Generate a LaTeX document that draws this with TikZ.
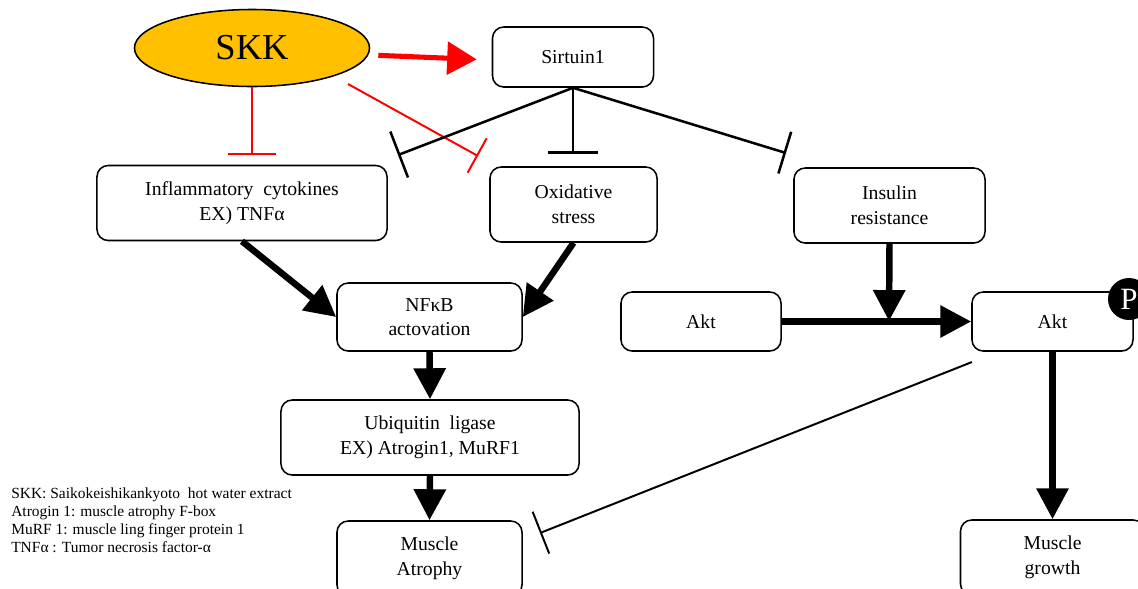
\documentclass[tikz,border=0pt]{standalone}
\usepackage{fontspec}
\setmainfont{Liberation Serif}
\usetikzlibrary{arrows.meta,shapes.geometric,positioning}
\definecolor{skkgold}{RGB}{255,192,0}
\tikzset{box/.style={shape=rectangle, draw, rounded corners=8pt, line width=1.1pt,
    align=center, inner sep=0pt, font=\fontsize{14}{17.5}\selectfont}}
\tikzset{act/.style={line width=4.6pt, -{Triangle[length=22pt,width=22pt]}}}
\tikzset{redact/.style={draw=red, line width=3.6pt, -{Triangle[length=21pt,width=23pt]}}}
\tikzset{inh/.style={line width=1.8pt, -{Bar[width=35pt]}}}
\tikzset{redinh/.style={draw=red, line width=1.4pt, -{Bar[width=34pt]}}}

\begin{document}
\begin{tikzpicture}[x=0.025cm, y=-0.025cm]
    \clip (0,0) rectangle (1138,588);

    \node[shape=ellipse, draw, fill=skkgold, line width=1.1pt, minimum width=5.875cm,
      minimum height=1.925cm, font=\fontsize{26}{30}\selectfont] (skk) at (252,48) {SKK};
    \node[box, minimum width=4.025cm, minimum height=1.5cm] (sirt) at (573,57) {Sirtuin1};
    \node[box, minimum width=7.25cm, minimum height=1.875cm] (infl) at (242,203) {Inflammatory\ \ cytokines\\EX)\ TNFα};
    \node[box, minimum width=4.175cm, minimum height=1.875cm] (oxid) at (573.5,204.5) {Oxidative\\stress};
    \node[box, minimum width=4.775cm, minimum height=1.875cm] (insu) at (889.5,205.5) {Insulin\\resistance};
    \node[box, minimum width=4.625cm, minimum height=1.7cm] (nfkb) at (429.5,317) {NFκB\\actovation};
    \node[box, minimum width=4cm, minimum height=1.475cm] (akt) at (701,321.5) {Akt};
    \node[box, minimum width=4.025cm, minimum height=1.475cm] (aktp) at (1052.5,321.5) {Akt};
    \node[shape=circle, fill=black, inner sep=0pt, minimum size=1.05cm, text=white,
      font=\fontsize{22}{24}\selectfont] (phos) at (1129,299) {P};
    \node[box, minimum width=7.45cm, minimum height=1.875cm] (ubiq) at (430,437.5) {Ubiquitin\ \ ligase\\EX)\ Atrogin1,\ MuRF1};
    \node[box, minimum width=4.625cm, minimum height=1.875cm] (atro) at (429.5,558.5) {Muscle\\Atrophy};
    \node[box, minimum width=4.6cm, minimum height=1.875cm] (grow) at (1052.5,557.5) {Muscle\\growth};
    \node[anchor=north west, align=left, inner sep=0pt, font=\fontsize{11}{12.8}\selectfont]
      (legend) at (11,487) {SKK: Saikokeishikankyoto\ \ hot water extract\\
      Atrogin 1: muscle atrophy F-box\\
      MuRF 1: muscle ling finger protein 1\\
      TNFα : Tumor necrosis factor-α};

    \coordinate (inflred) at (252,155);
    \coordinate (oxidredA) at (348,84);
    \coordinate (oxidred) at (478,156);
    \coordinate (inflbar) at (398,155);
    \coordinate (oxidbar) at (573,154);
    \coordinate (insubar) at (786,153);
    \coordinate (jct) at (889,321);
    \coordinate (atroA) at (972,362);
    \coordinate (atrobar) at (540,533);

    % SKK effects
    \draw [redact, shorten <=0.2cm, shorten >=0.375cm] ([yshift=-0.175cm]skk.east) to ([yshift=-0.075cm]sirt.west);
    \draw [redinh] (skk.south) to (inflred);
    \draw [redinh, -{Bar[width=28pt]}] (oxidredA) to (oxidred);

    % Sirtuin1 effects
    \draw [inh] (sirt.south) to (inflbar);
    \draw [inh] (sirt.south) to (oxidbar);
    \draw [inh, -{Bar[width=31pt]}] (sirt.south) to (insubar);

    \draw [act] (infl.south) to (nfkb.west);
    \draw [act] (oxid.south) to (nfkb.east);
    \draw [act] (nfkb.south) to (ubiq.north);
    \draw [act] (ubiq.south) to (atro.north);

    \draw [act] (insu.south) to (jct);
    \draw [act] (akt.east) to (aktp.west);
    \draw [act] (aktp.south) to (grow.north);
    \draw [inh, line width=1.4pt, -{Bar[width=32pt]}] (atroA) to (atrobar);

  \end{tikzpicture}
\end{document}
